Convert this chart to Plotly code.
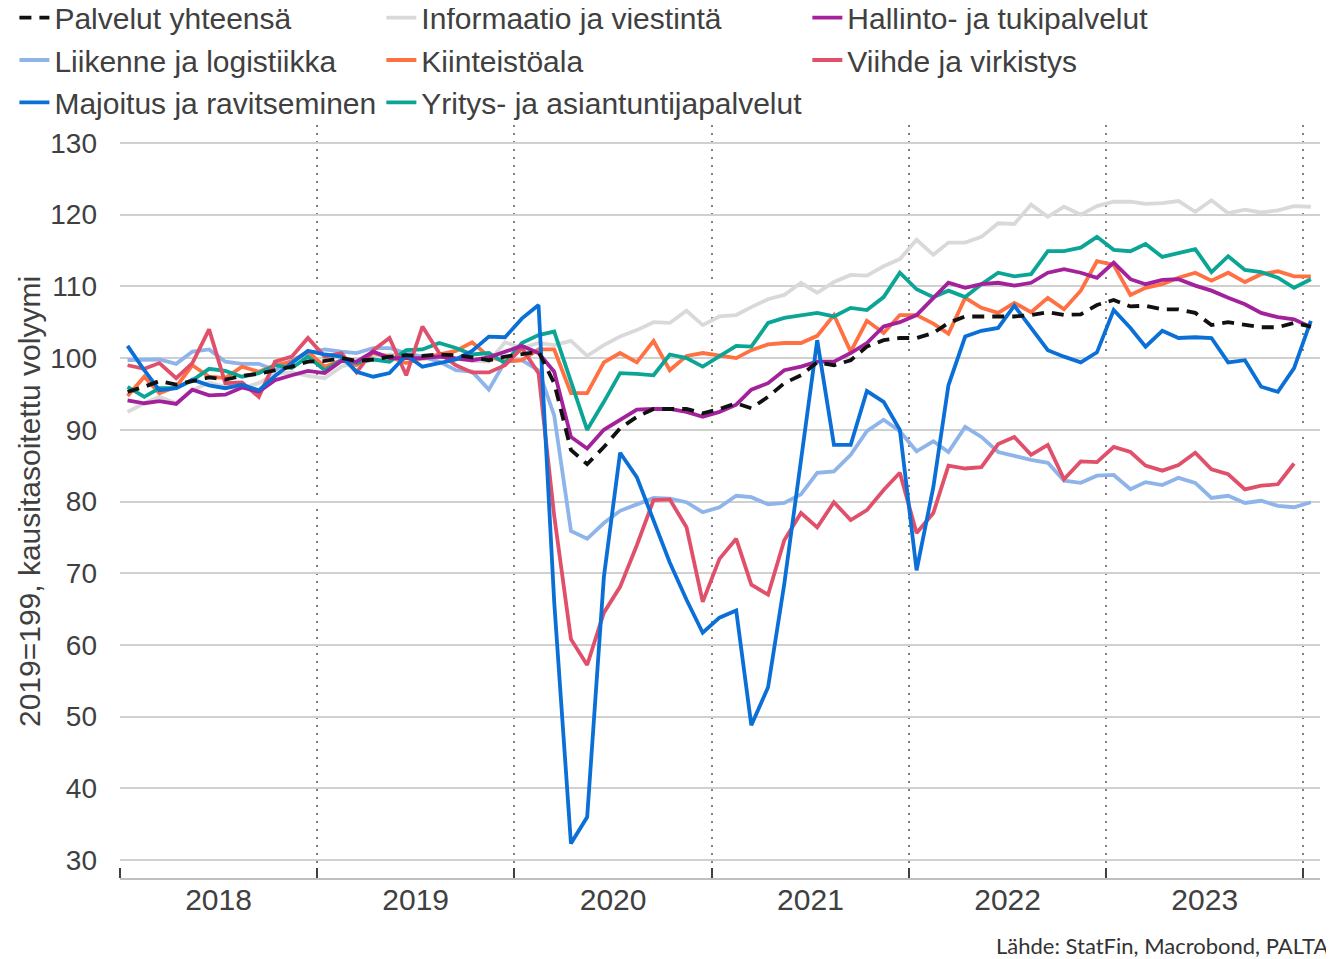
import pandas as pd
import plotly.graph_objects as go

start_month = "2018-01-01"

palvelut = [95.3, 96.0, 96.8, 96.3, 96.8, 97.3, 97.0, 97.5, 97.8, 98.3, 98.8, 99.5,
            99.6, 100.0, 99.6, 99.8, 100.2, 100.4, 100.3, 100.5, 100.4, 100.1, 99.7, 100.2,
            100.5, 100.9, 96.5, 87.2, 85.2, 87.6, 90.2, 91.8, 92.9, 92.9, 92.9, 92.3,
            92.9, 93.7, 93.0, 94.6, 96.5, 97.6, 99.4, 99.0, 99.7, 101.6, 102.5, 102.8,
            102.8, 103.5, 104.9, 105.8, 105.8, 105.7, 105.8, 106.0, 106.4, 106.0, 106.1, 107.4,
            108.1, 107.2, 107.3, 106.8, 106.8, 106.3, 104.6, 105.0, 104.7, 104.3, 104.3, 104.9,
            104.4]
informaatio = [92.5, 93.7, 94.6, 93.7, 95.5, 96.6, 96.0, 95.8, 96.5, 97.8, 98.0, 97.5,
               97.2, 98.8, 99.5, 100.0, 100.5, 100.3, 99.8, 100.3, 100.0, 99.6, 99.5, 102.2,
               101.4, 102.1, 101.8, 102.4, 100.3, 101.8, 103.0, 103.9, 105.0, 104.9, 106.6, 104.6,
               105.8, 106.0, 107.1, 108.2, 108.8, 110.5, 109.1, 110.6, 111.6, 111.5, 112.8, 113.8,
               116.5, 114.4, 116.1, 116.1, 116.9, 118.8, 118.7, 121.4, 119.7, 121.1, 120.0, 121.2,
               121.8, 121.8, 121.5, 121.6, 121.9, 120.4, 122.0, 120.2, 120.7, 120.3, 120.6, 121.2,
               121.1]
hallinto = [94.1, 93.7, 94.0, 93.6, 95.6, 94.8, 94.9, 95.9, 95.3, 96.9, 97.6, 98.2,
            97.9, 99.6, 99.5, 100.9, 100.0, 100.0, 100.0, 100.2, 100.0, 99.7, 100.1, 100.9,
            101.7, 100.7, 98.1, 89.0, 87.4, 90.0, 91.4, 92.8, 92.9, 92.9, 92.5, 91.8,
            92.5, 93.5, 95.6, 96.5, 98.3, 98.8, 99.5, 99.5, 100.7, 102.1, 104.4, 105.0,
            106.0, 108.4, 110.5, 109.8, 110.3, 110.5, 110.1, 110.5, 111.9, 112.4, 111.9, 111.2,
            113.3, 111.0, 110.3, 110.9, 111.0, 110.1, 109.4, 108.4, 107.5, 106.3, 105.7, 105.4,
            104.3]
liikenne = [99.7, 99.8, 99.8, 99.2, 100.9, 101.2, 99.5, 99.2, 99.2, 98.3, 99.7, 100.7,
            101.2, 100.9, 100.7, 101.4, 101.4, 100.7, 100.2, 99.5, 98.3, 98.1, 95.6, 99.5,
            99.7, 98.3, 92.0, 75.9, 74.8, 77.0, 78.7, 79.6, 80.5, 80.4, 79.9, 78.5,
            79.2, 80.8, 80.6, 79.6, 79.8, 81.0, 84.0, 84.2, 86.5, 89.8, 91.4, 89.8,
            87.0, 88.4, 86.9, 90.4, 89.0, 86.9, 86.3, 85.8, 85.4, 82.9, 82.6, 83.6,
            83.7, 81.7, 82.7, 82.3, 83.3, 82.6, 80.5, 80.8, 79.8, 80.1, 79.4, 79.2,
            79.9]
kiinteisto = [94.7, 97.4, 95.1, 96.0, 99.0, 97.4, 97.2, 98.8, 98.1, 99.0, 99.5, 100.9,
              98.8, 99.7, 99.0, 100.7, 100.2, 99.3, 100.0, 100.5, 101.0, 102.2, 100.2, 99.5,
              99.7, 101.2, 101.2, 95.1, 95.1, 99.4, 100.7, 99.4, 102.4, 98.3, 100.3, 100.7,
              100.3, 100.0, 101.1, 101.9, 102.1, 102.1, 103.1, 106.0, 100.9, 105.2, 103.5, 106.0,
              106.0, 104.8, 103.4, 108.4, 107.0, 106.3, 107.7, 106.4, 108.4, 106.8, 109.4, 113.5,
              113.0, 108.8, 109.8, 110.3, 111.2, 111.9, 110.8, 111.9, 110.6, 111.7, 112.1, 111.4,
              111.4]
viihde = [99.0, 98.5, 99.3, 97.2, 99.3, 104.0, 96.5, 96.6, 94.6, 99.5, 100.2, 102.8,
          100.2, 100.7, 98.0, 101.1, 102.8, 97.6, 104.4, 100.7, 99.0, 98.0, 98.0, 99.0,
          101.4, 97.9, 78.0, 60.8, 57.2, 64.5, 68.1, 73.9, 80.2, 80.3, 76.4, 66.0,
          72.0, 74.8, 68.4, 67.0, 74.6, 78.4, 76.4, 79.9, 77.4, 78.8, 81.6, 84.0,
          75.6, 78.4, 85.0, 84.6, 84.8, 88.0, 89.0, 86.5, 87.9, 83.1, 85.6, 85.5,
          87.6, 86.9, 85.0, 84.3, 85.1, 86.8, 84.5, 83.8, 81.7, 82.2, 82.4, 85.3]
majoitus = [101.7, 98.3, 95.5, 95.8, 97.0, 96.2, 95.8, 96.3, 95.5, 97.5, 99.3, 101.0,
            100.5, 100.2, 98.1, 97.4, 97.9, 100.4, 98.8, 99.3, 99.8, 101.0, 103.0, 102.9,
            105.5, 107.4, 66.0, 32.3, 36.0, 69.5, 86.8, 83.4, 77.5, 71.5, 66.3, 61.7,
            63.8, 64.8, 48.8, 54.1, 68.5, 85.5, 102.5, 87.9, 87.9, 95.4, 93.9, 90.0,
            70.4, 82.0, 96.2, 103.0, 103.8, 104.2, 107.3, 104.2, 101.1, 100.2, 99.4, 100.8,
            106.7, 104.2, 101.6, 103.8, 102.8, 102.9, 102.8, 99.4, 99.7, 96.0, 95.3, 98.6,
            105.2]
yritys = [96.0, 94.6, 95.8, 95.8, 96.9, 98.5, 98.2, 97.4, 97.9, 99.0, 98.6, 100.2,
          98.3, 99.7, 99.3, 99.8, 99.5, 101.1, 101.2, 102.1, 101.4, 100.5, 100.7, 99.3,
          102.1, 103.2, 103.7, 96.7, 90.0, 93.9, 97.9, 97.8, 97.6, 100.5, 100.0, 98.8,
          100.3, 101.7, 101.6, 104.9, 105.6, 105.9, 106.3, 105.8, 107.0, 106.7, 108.5, 111.9,
          109.6, 108.5, 109.4, 108.5, 110.3, 111.9, 111.4, 111.7, 114.9, 114.9, 115.4, 116.9,
          115.1, 114.9, 115.9, 114.1, 114.6, 115.2, 112.0, 114.2, 112.3, 112.0, 111.2, 109.8,
          111.0]

# (name, values, color, dash, legend, rank)
series = [
    ("Informaatio ja viestintä", informaatio, "#d9d9d9", "solid", "legend2", 1),
    ("Liikenne ja logistiikka", liikenne, "#8eb4ea", "solid", "legend", 2),
    ("Kiinteistöala", kiinteisto, "#ff7043", "solid", "legend2", 2),
    ("Yritys- ja asiantuntijapalvelut", yritys, "#0aa595", "solid", "legend2", 3),
    ("Viihde ja virkistys", viihde, "#e0506a", "solid", "legend3", 2),
    ("Hallinto- ja tukipalvelut", hallinto, "#a4219c", "solid", "legend3", 1),
    ("Majoitus ja ravitseminen", majoitus, "#0a6fd6", "solid", "legend", 3),
    ("Palvelut yhteensä", palvelut, "#111111", "12px,8px", "legend", 1),
]

fig = go.Figure()
for name, vals, color, dash, leg, rank in series:
    dates = pd.date_range(start_month, periods=len(vals), freq="MS") + pd.Timedelta(days=14)
    fig.add_trace(go.Scatter(
        x=dates, y=vals, mode="lines", name=name,
        line=dict(color=color, width=3.8, dash=dash),
        legend=leg, legendrank=rank, legendgroup=name,
    ))

font_main = "Liberation Sans, Arial, sans-serif"
txt = "#404040"
leg_common = dict(
    orientation="v", yanchor="top", xanchor="left", y=1.177,
    font=dict(family=font_main, size=30, color=txt),
    bgcolor="rgba(0,0,0,0)", tracegroupgap=0.3, itemwidth=30,
)

fig.update_layout(
    width=1334, height=959,
    margin=dict(l=112, r=22, t=117, b=89, autoexpand=False),
    paper_bgcolor="white", plot_bgcolor="white",
    font=dict(family=font_main, color=txt),
    showlegend=True,
    legend=dict(x=-0.088, **leg_common),
    legend2=dict(x=0.2178, **leg_common),
    legend3=dict(x=0.5728, **leg_common),
    xaxis=dict(
        type="date", range=["2018-01-01", "2024-02-01"],
        tick0="2018-01-01", dtick="M12", tickformat="%Y", ticklabelmode="period",
        ticks="inside", ticklen=10, tickwidth=2, tickcolor="#404040",
        showgrid=True, gridcolor="#808080", gridwidth=2, griddash="2px,6px",
        showline=True, linecolor="#bfbfbf", linewidth=1.5,
        tickfont=dict(size=30, color=txt), zeroline=False, ticklabelstandoff=-6,
    ),
    yaxis=dict(
        range=[27.5, 132.5], tick0=30, dtick=10,
        showgrid=True, gridcolor="#d0d0d0", gridwidth=1.5, zeroline=False,
        showline=False, ticks="", ticklabelstandoff=22,
        tickfont=dict(size=28, color=txt),
        title=dict(text="2019=199, kausitasoitettu volyymi",
                   font=dict(size=30, color=txt), standoff=0),
    ),
)

BASE = 100
fig.add_hline(y=BASE, line=dict(color="#8c8c8c", width=2), layer="below")

fig.add_annotation(
    text="Lähde: StatFin, Macrobond, PALTA", xref="paper", yref="paper",
    x=1.008, y=-0.089, xanchor="right", yanchor="middle", showarrow=False,
    font=dict(family="Lato, Open Sans, sans-serif", size=22, color="#333333"),
)

fig.write_html("out.html")
